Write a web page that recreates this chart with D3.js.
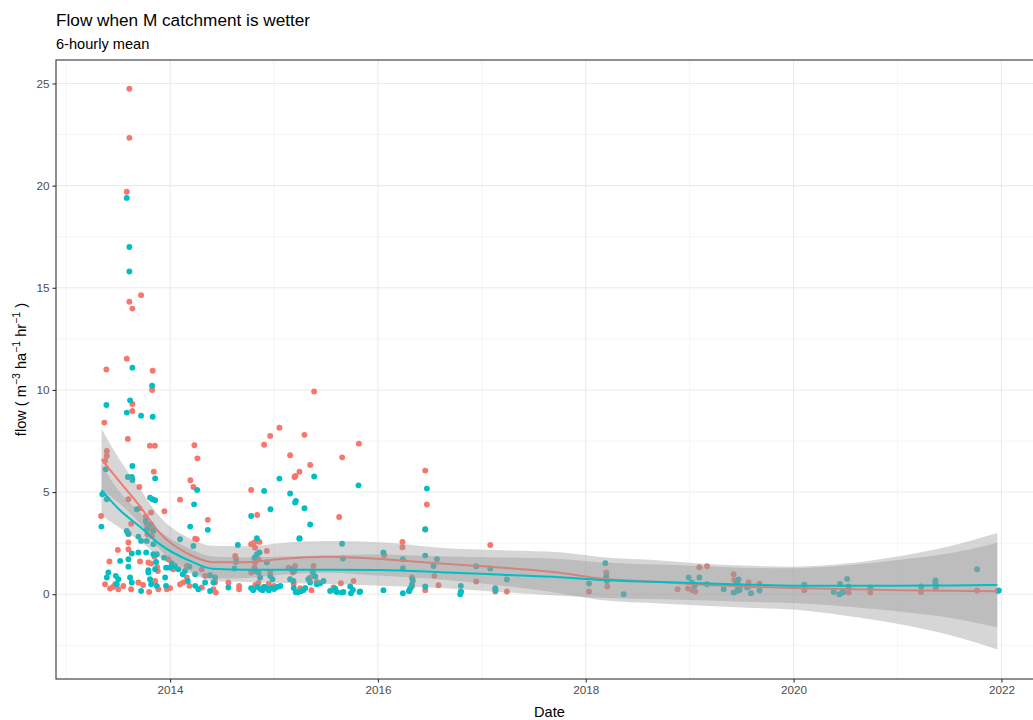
<!DOCTYPE html>
<html>
<head>
<meta charset="utf-8">
<script src="https://cdn.jsdelivr.net/npm/d3@7"></script>
<style>
  html, body { margin: 0; padding: 0; background: #fff; }
  svg { display: block; font-family: "Liberation Sans", Arial, sans-serif; }
</style>
</head>
<body>
<svg id="chart" width="1033" height="720"></svg>
<script>
// ---------------- DATA ----------------
const chartTitle = "Flow when M catchment is wetter";
const chartSubtitle = "6-hourly mean";
const xTickYears = [2014, 2016, 2018, 2020, 2022];
const xMinorYears = [2013, 2015, 2017, 2019, 2021];
const yTickValues = [0, 5, 10, 15, 20, 25];
const yMinorValues = [-2.5, 2.5, 7.5, 12.5, 17.5, 22.5];
const seriesColors = ["#F8766D", "#00BFC4"];

// [decimal year, flow]
const redPoints = [
  [2013.336,3.83],[2013.367,8.40],[2013.374,6.52],[2013.391,6.77],[2013.391,7.01],[2013.387,11.0],
  [2013.374,0.49],[2013.416,1.60],[2013.422,0.28],[2013.471,0.49],[2013.497,2.17],[2013.502,0.24],
  [2013.45,0.35],[2013.55,0.40],
  [2013.583,19.7],[2013.583,11.53],[2013.593,7.6],[2013.599,4.65],[2013.599,2.94],[2013.599,2.53],
  [2013.599,2.2],[2013.608,24.74],[2013.608,22.34],[2013.608,14.32],[2013.625,3.45],[2013.625,0.24],
  [2013.637,13.98],[2013.637,9.31],[2013.637,8.97],[2013.695,0.57],[2013.704,5.25],[2013.704,4.2],
  [2013.711,1.6],[2013.721,14.64],[2013.766,3.8],[2013.776,3.42],[2013.782,2.92],[2013.791,1.55],
  [2013.798,0.11],[2013.805,7.27],[2013.807,3.26],[2013.817,4.0],[2013.817,1.5],[2013.824,2.85],
  [2013.827,10.0],[2013.827,3.18],[2013.833,10.94],[2013.843,6.0],[2013.849,1.84],[2013.853,7.27],
  [2013.856,0.65],[2013.875,1.34],[2013.882,1.14],[2013.887,0.24],[2013.945,4.06],[2013.968,0.24],
  [2013.984,1.71],[2013.74,0.45],[2014.0,0.30],
  [2014.032,1.22],[2014.096,4.63],[2014.096,0.49],[2014.128,0.57],[2014.161,1.38],[2014.161,0.82],
  [2014.186,0.41],[2014.195,5.58],[2014.224,5.25],[2014.234,7.29],[2014.241,2.72],[2014.257,2.69],
  [2014.263,6.65],[2014.305,1.22],[2014.305,0.33],[2014.337,0.9],[2014.363,3.64],[2014.417,0.24],
  [2014.433,0.57],[2014.440,0.08],[2014.561,0.57],[2014.626,1.87],[2014.635,1.75],[2014.664,0.41],
  [2014.664,0.24],[2014.780,5.1],[2014.780,2.45],[2014.780,1.06],[2014.809,2.53],[2014.818,2.28],
  [2014.818,1.55],[2014.812,1.3],[2014.82,0.45],[2014.838,3.88],[2014.850,1.71],[2014.85,0.55],
  [2014.860,2.56],[2014.90,0.35],[2014.905,7.32],[2014.931,2.12],[2014.95,0.5],[2014.963,7.75],
  [2014.963,1.09],[2015.0,0.4],[2015.052,8.15],[2015.139,1.3],[2015.155,6.8],[2015.181,1.06],
  [2015.19,0.5],[2015.197,5.74],[2015.203,1.38],[2015.206,5.79],[2015.245,6.0],[2015.25,0.3],
  [2015.293,7.8],[2015.30,0.3],[2015.348,6.33],[2015.348,0.82],[2015.36,0.2],[2015.380,1.38],
  [2015.386,9.92],[2015.412,0.6],[2015.572,0.33],[2015.588,0.16],[2015.627,3.78],[2015.643,0.54],
  [2015.656,6.7],[2015.765,0.65],[2015.817,7.37],[2016.060,1.91],[2016.236,2.56],[2016.236,2.3],
  [2016.303,0.16],[2016.327,0.82],[2016.336,0.65],[2016.327,0.38],[2016.455,6.05],[2016.471,4.39],
  [2016.455,3.17],[2016.455,0.2],[2016.544,0.9],[2016.583,0.44],[2016.798,0.13],[2016.946,0.62],
  [2017.081,2.41],[2017.129,0.13],[2017.241,0.13],[2018.031,0.13],[2018.197,1.06],[2018.207,0.38],
  [2018.884,0.24],[2018.984,0.28],[2019.022,0.21],[2019.054,0.13],[2019.093,1.32],[2019.167,1.37],
  [2019.423,0.98],[2019.430,0.7],[2019.456,0.45],[2019.481,0.42],[2019.567,0.57],[2019.567,0.38],
  [2019.673,0.52],[2020.103,0.2],[2020.476,0.16],[2020.530,0.08],[2020.739,0.08],[2021.227,0.11],
  [2021.365,0.28],[2021.766,0.18],[2021.964,0.16]
];

const cyanPoints = [
  [2013.583,19.4],[2013.608,17.0],[2013.608,15.8],[2013.637,11.09],[2013.827,10.21],[2013.387,9.26],
  [2013.615,9.49],[2013.583,8.89],[2013.721,8.74],[2013.833,8.69],[2013.381,6.12],[2013.637,6.28],
  [2013.856,5.67],[2013.593,5.74],[2013.631,5.74],[2013.637,5.59],[2013.348,4.89],[2013.391,4.65],
  [2013.807,4.73],[2013.830,4.65],[2013.856,4.6],[2014.231,4.4],[2014.260,5.1],[2013.766,3.59],
  [2013.339,3.31],[2013.817,3.42],[2013.776,3.18],[2013.839,3.1],[2013.583,3.1],[2013.599,2.97],
  [2014.363,3.15],[2014.193,3.31],[2013.679,4.16],[2013.695,2.82],[2013.721,2.61],[2013.776,2.61],
  [2013.839,2.45],[2014.224,2.36],[2013.631,1.99],[2013.695,2.04],[2013.770,2.04],[2013.839,1.96],
  [2013.872,1.96],[2013.942,1.79],[2014.016,1.52],[2013.519,1.63],[2013.599,1.71],[2013.865,1.58],
  [2013.599,1.35],[2013.791,1.17],[2013.856,1.22],[2013.961,1.3],[2014.0,1.3],[2014.048,1.38],
  [2014.080,1.22],[2014.122,0.98],[2014.144,1.14],[2014.186,1.35],[2014.241,0.98],[2014.385,0.93],
  [2014.433,0.82],[2013.406,1.06],[2013.391,0.82],[2013.477,0.9],[2013.502,0.73],[2013.487,0.49],
  [2013.615,0.82],[2013.631,0.57],[2013.721,0.16],[2013.791,1.06],[2013.807,0.73],[2013.817,0.49],
  [2013.872,0.41],[2013.952,0.82],[2013.961,0.41],[2014.170,0.65],[2014.241,0.41],[2014.272,0.24],
  [2014.337,0.57],[2014.417,0.57],[2014.385,0.16],[2014.096,2.69],
  [2014.835,2.74],[2014.652,2.41],[2014.860,2.04],[2014.835,1.96],[2014.812,1.79],[2014.635,1.58],
  [2014.931,1.55],[2015.245,2.74],[2014.818,1.14],[2014.850,1.06],[2014.866,0.82],[2014.619,1.26],
  [2014.963,0.9],[2014.985,0.73],[2015.172,1.22],[2015.194,1.14],[2015.155,0.73],[2015.187,0.65],
  [2015.374,1.06],[2015.396,0.87],[2015.331,0.73],[2015.348,0.57],[2015.476,0.65],[2015.412,0.49],
  [2015.444,0.54],[2014.561,0.33],
  [2014.78,0.30],[2014.80,0.20],[2014.84,0.35],[2014.87,0.25],[2014.89,0.20],[2014.91,0.35],
  [2014.93,0.30],[2014.95,0.20],[2014.98,0.30],[2015.00,0.25],[2015.03,0.35],[2015.06,0.40],
  [2015.19,0.30],[2015.21,0.10],[2015.23,0.10],[2015.26,0.15],[2015.28,0.20],[2015.30,0.30],
  [2015.540,0.16],[2015.588,0.28],[2015.605,0.11],[2015.652,0.08],[2015.668,0.11],[2015.733,0.38],
  [2015.759,0.21],[2015.740,0.05],[2015.823,0.11],[2015.663,1.75],
  [2015.052,5.66],[2015.386,5.76],[2015.813,5.33],[2014.905,5.05],[2015.155,4.93],[2015.203,4.49],
  [2015.210,4.57],[2014.966,4.16],[2015.293,4.21],[2015.348,3.41],[2014.780,3.83],[2015.245,2.72],
  [2015.655,2.47],[2016.053,2.04],[2016.240,1.71],[2016.240,1.27],[2016.455,3.18],[2016.471,5.17],
  [2016.455,1.89],[2016.535,1.38],[2016.568,1.71],[2016.333,0.72],[2016.327,0.46],[2016.310,0.28],
  [2016.298,0.16],[2016.455,0.38],[2016.240,0.05],[2016.053,0.2],[2015.829,0.13],
  [2016.792,0.0],[2016.798,0.11],[2016.798,0.41],[2016.946,1.37],[2017.081,1.26],[2017.129,0.29],
  [2017.132,0.21],[2017.241,0.72],[2018.031,0.52],[2018.188,1.52],[2018.197,0.87],[2018.204,0.65],
  [2018.364,0.0],[2018.990,0.82],[2019.022,0.57],[2019.047,0.41],[2019.093,0.82],[2019.167,0.49],
  [2019.327,0.24],[2019.456,0.57],[2019.465,0.38],[2019.423,0.08],[2019.456,0.16],[2019.481,0.21],
  [2019.47,0.72],[2019.552,0.33],[2019.590,0.05],[2019.673,0.18],[2020.103,0.46],[2020.386,0.11],
  [2020.441,0.0],[2020.447,0.5],[2020.476,0.08],[2020.515,0.75],[2020.530,0.38],[2020.739,0.33],
  [2021.227,0.38],[2021.365,0.68],[2021.365,0.54],[2021.374,0.41],[2021.766,1.22],[2021.974,0.18]
];

// smoothed fits with confidence band
const smoothYears = [2013.34, 2013.5, 2013.71, 2013.9, 2014.22, 2014.41, 2014.74, 2015.06, 2015.51, 2016.02, 2016.6, 2017.2, 2017.75, 2018.14, 2018.72, 2019.1, 2019.5, 2020.0, 2020.5, 2021.0, 2021.5, 2021.96];
const redFit  = [6.6, 5.6, 4.3, 3.0, 1.86, 1.57, 1.57, 1.72, 1.83, 1.72, 1.5, 1.3, 1.05, 0.77, 0.6, 0.47, 0.38, 0.3, 0.25, 0.2, 0.17, 0.15];
const redLo   = [5.1, 4.5, 3.45, 2.2, 1.06, 0.77, 0.8, 0.95, 1.05, 0.9, 0.72, 0.42, 0.05, -0.28, -0.45, -0.55, -0.65, -0.75, -1.05, -1.45, -2.0, -2.7];
const redHi   = [8.1, 6.7, 5.15, 3.8, 2.66, 2.37, 2.35, 2.5, 2.6, 2.55, 2.28, 2.15, 2.05, 1.82, 1.65, 1.5, 1.4, 1.35, 1.5, 1.85, 2.35, 3.0];
const cyanFit = [5.1, 4.2, 3.3, 2.45, 1.57, 1.25, 1.2, 1.2, 1.2, 1.18, 1.08, 0.95, 0.83, 0.7, 0.6, 0.54, 0.48, 0.42, 0.42, 0.42, 0.43, 0.45];
const cyanLo  = [3.85, 3.3, 2.6, 1.8, 0.97, 0.65, 0.6, 0.55, 0.5, 0.41, 0.3, 0.1, -0.07, -0.17, -0.25, -0.3, -0.37, -0.43, -0.6, -0.83, -1.15, -1.62];
const cyanHi  = [6.35, 5.1, 4.0, 3.1, 2.17, 1.85, 1.8, 1.85, 1.9, 1.95, 1.86, 1.8, 1.73, 1.57, 1.45, 1.38, 1.3, 1.27, 1.4, 1.67, 2.0, 2.52];

// ---------------- LAYOUT ----------------
const W = 1033, H = 720;
const P = { left: 56, top: 60, right: 1043, bottom: 679 };

const svg = d3.select("#chart");
svg.append("rect").attr("width", W).attr("height", H).attr("fill", "#fff");

const x = d3.scaleLinear().domain([2012.902, 2022.40]).range([P.left, P.right]);
const y = d3.scaleLinear().domain([-4.15, 26.15]).range([P.bottom, P.top]);

svg.append("defs").append("clipPath").attr("id", "panelClip")
  .append("rect").attr("x", P.left).attr("y", P.top)
  .attr("width", P.right - P.left).attr("height", P.bottom - P.top);

// grid
const grid = svg.append("g");
grid.selectAll(".ymin").data(yMinorValues).join("line")
  .attr("x1", P.left).attr("x2", P.right).attr("y1", d => y(d)).attr("y2", d => y(d))
  .attr("stroke", "#EBEBEB").attr("stroke-width", 0.55);
grid.selectAll(".xmin").data(xMinorYears).join("line")
  .attr("y1", P.top).attr("y2", P.bottom).attr("x1", d => x(d)).attr("x2", d => x(d))
  .attr("stroke", "#EBEBEB").attr("stroke-width", 0.55);
grid.selectAll(".ymaj").data(yTickValues).join("line")
  .attr("x1", P.left).attr("x2", P.right).attr("y1", d => y(d)).attr("y2", d => y(d))
  .attr("stroke", "#EBEBEB").attr("stroke-width", 1.1);
grid.selectAll(".xmaj").data(xTickYears).join("line")
  .attr("y1", P.top).attr("y2", P.bottom).attr("x1", d => x(d)).attr("x2", d => x(d))
  .attr("stroke", "#EBEBEB").attr("stroke-width", 1.1);

const panel = svg.append("g").attr("clip-path", "url(#panelClip)");

// points
const seriesPts = [redPoints, cyanPoints];
seriesPts.forEach((pts, i) => {
  panel.append("g").selectAll("circle").data(pts).join("circle")
    .attr("cx", d => x(d[0])).attr("cy", d => y(d[1])).attr("r", 2.95)
    .attr("fill", seriesColors[i]);
});

// smooths
const fits = [
  { fit: redFit, lo: redLo, hi: redHi },
  { fit: cyanFit, lo: cyanLo, hi: cyanHi }
];
const area = d3.area().curve(d3.curveMonotoneX)
  .x(d => x(d.t)).y0(d => y(d.lo)).y1(d => y(d.hi));
const line = d3.line().curve(d3.curveMonotoneX)
  .x(d => x(d.t)).y(d => y(d.v));
fits.forEach((s, i) => {
  const rows = smoothYears.map((t, k) => ({ t, v: s.fit[k], lo: s.lo[k], hi: s.hi[k] }));
  panel.append("path").datum(rows).attr("d", area)
    .attr("fill", "#999999").attr("fill-opacity", 0.4);
  panel.append("path").datum(rows).attr("d", line)
    .attr("fill", "none").attr("stroke", seriesColors[i]).attr("stroke-width", 2);
});

// panel border
svg.append("rect").attr("x", P.left).attr("y", P.top)
  .attr("width", P.right - P.left).attr("height", P.bottom - P.top)
  .attr("fill", "none").attr("stroke", "#333333").attr("stroke-width", 1.1);

// axes
const tickFont = "11.7px";
const xAxis = svg.append("g").attr("transform", `translate(0,${P.bottom})`)
  .call(d3.axisBottom(x).tickValues(xTickYears).tickFormat(d3.format("d")).tickSize(3.6).tickPadding(3));
const yAxis = svg.append("g").attr("transform", `translate(${P.left},0)`)
  .call(d3.axisLeft(y).tickValues(yTickValues).tickFormat(d3.format("d")).tickSize(3.6).tickPadding(3));
[xAxis, yAxis].forEach(a => {
  a.select(".domain").remove();
  a.selectAll(".tick line").attr("stroke", "#333333").attr("stroke-width", 1.1);
  a.selectAll(".tick text").attr("fill", "#4D4D4D")
    .style("font-size", tickFont).style("font-family", '"Liberation Sans", Arial, sans-serif');
});

// titles
svg.append("text").attr("x", P.left).attr("y", 26)
  .style("font-size", "17.2px").attr("fill", "#000").text(chartTitle);
svg.append("text").attr("x", P.left).attr("y", 49)
  .style("font-size", "14.6px").attr("fill", "#000").text(chartSubtitle);

svg.append("text").attr("x", (P.left + P.right) / 2).attr("y", 717)
  .attr("text-anchor", "middle").style("font-size", "14.6px").attr("fill", "#000").text("Date");

const yl = svg.append("text")
  .attr("transform", `translate(26,${(P.top + P.bottom) / 2}) rotate(-90)`)
  .attr("text-anchor", "middle").style("font-size", "14.6px").attr("fill", "#000");
yl.append("tspan").text("flow ( m");
yl.append("tspan").attr("dy", -6).style("font-size", "10.5px").text("−3");
yl.append("tspan").attr("dy", 6).text(" ha");
yl.append("tspan").attr("dy", -6).style("font-size", "10.5px").text("−1");
yl.append("tspan").attr("dy", 6).text(" hr");
yl.append("tspan").attr("dy", -6).style("font-size", "10.5px").text("−1");
yl.append("tspan").attr("dy", 6).text(" )");
</script>
</body>
</html>
